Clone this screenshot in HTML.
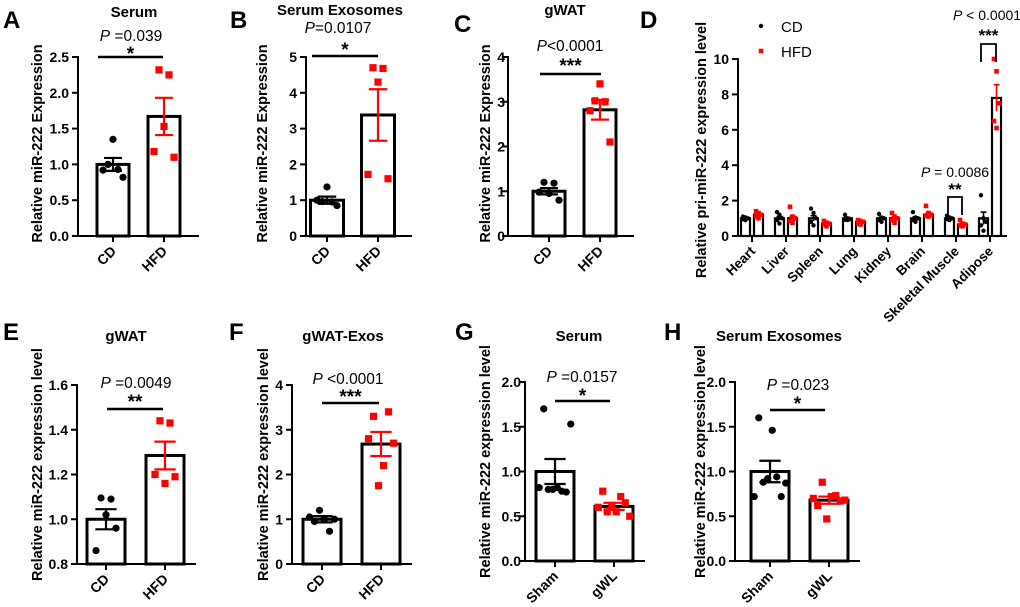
<!DOCTYPE html>
<html><head><meta charset="utf-8"><style>
html,body{margin:0;padding:0;background:#fff;}
svg{display:block;font-family:"Liberation Sans",Arial,sans-serif;}
</style></head><body>
<svg id="fig" width="1020" height="607" viewBox="0 0 1020 607" xmlns="http://www.w3.org/2000/svg"></svg>
<script>
// ---- data ----
const aCats=['CD','HFD'];const aMeans=[1.0,1.67];const aSem=[0.09,0.26];
const aPts=[[0.92,1.0,1.35,0.93,0.82],[1.18,2.32,1.53,2.25,1.1]];
const bCats=['CD','HFD'];const bMeans=[1.0,3.38];const bSem=[0.1,0.72];
const bPts=[[1.0,0.96,1.37,0.95,0.85],[1.72,4.7,4.3,4.68,1.6]];
const cCats=['CD','HFD'];const cMeans=[1.0,2.82];const cSem=[0.07,0.22];
const cPts=[[0.98,1.2,0.95,1.18,0.8],[2.8,3.02,3.4,3.0,2.1]];
const eCats=['CD','HFD'];const eMeans=[1.0,1.285];const eSem=[0.045,0.062];
const ePts=[[0.86,1.095,1.02,1.09,0.96],[1.2,1.44,1.16,1.43,1.19]];
const fCats=['CD','HFD'];const fMeans=[1.0,2.68];const fSem=[0.07,0.27];
const fPts=[[1.05,0.95,1.2,1.0,0.73,1.0],[2.8,3.3,1.75,2.2,3.4,2.7]];
const gCats=['Sham','gWL'];const gMeans=[1.0,0.61];const gSem=[0.14,0.04];
const gPts=[[0.82,1.7,0.8,0.8,0.82,0.78,0.77,1.53],[0.6,0.78,0.55,0.62,0.55,0.72,0.65,0.5]];
const hCats=['Sham','gWL'];const hMeans=[1.0,0.68];const hSem=[0.12,0.04];
const hPts=[[0.72,1.6,0.88,0.92,1.46,0.94,0.72,0.87],[0.7,0.62,0.88,0.47,0.72,0.73,0.67,0.68]];
const dCats=['Heart','Liver','Spleen','Lung','Kidney','Brain','Skeletal Muscle','Adipose'];
const dCdMeans=[1,1,1,1,1,1,1,1];
const dCdSem=[0.05,0.1,0.15,0.05,0.06,0.08,0.05,0.35];
const dHfdMeans=[1.2,1.0,0.7,0.8,1.0,1.2,0.65,7.8];
const dHfdSem=[0.08,0.12,0.05,0.06,0.08,0.1,0.05,0.75];
const dCdPts=[[1.1,1.05,1.0,0.95,0.9],[1.35,1.2,1.0,0.9,0.7],[1.55,1.3,1.0,0.8,0.6],[1.2,1.0,0.95,0.92,0.9],[1.25,1.05,1.0,0.9,0.8],[1.35,1.05,1.0,0.9,0.8],[1.15,1.05,1.0,0.95,0.9],[2.3,1.0,0.8,0.6,0.3]];
const dHfdPts=[[1.4,1.3,1.2,1.1,1.0],[1.65,1.1,1.0,0.85,0.75],[0.85,0.75,0.7,0.65,0.55],[0.9,0.85,0.8,0.7,0.65],[1.3,1.1,1.0,0.9,0.75],[1.7,1.3,1.2,1.15,1.1],[0.9,0.7,0.65,0.6,0.55],[10.0,9.3,7.5,6.5,6.1]];

const NS='http://www.w3.org/2000/svg';
const svg=document.getElementById('fig');
function el(tag,attrs,parent,text){const e=document.createElementNS(NS,tag);for(const k in attrs)e.setAttribute(k,attrs[k]);if(text!==undefined)e.textContent=text;(parent||svg).appendChild(e);return e;}

function panel(id,g,cats,means,sem,pts){
  const G=el('g',{});
  
  
  const y=v=>g.yBot-(v-g.dmin)/(g.dmax-g.dmin)*(g.yBot-g.yTop);
  const tg=g.tg||9;
  const ax=el('g',{},G);
  
  
  el('line',{x1:g.ax,y1:g.yTop-1,x2:g.ax,y2:g.yBot+1,stroke:'#000','stroke-width':2},ax);
  g.ticks.forEach(t=>{
    el('line',{x1:g.ax-6,y1:y(t),x2:g.ax,y2:y(t),stroke:'#000','stroke-width':2},ax);
    const tl=el('text',{x:g.ax-tg,y:y(t)+5,'text-anchor':'end','font-size':14,'font-weight':'bold'},ax,t.toFixed(g.dec));
    
    
  });
  const xa=el('line',{x1:g.ax,y1:g.yBot,x2:g.xEnd,y2:g.yBot,stroke:'#000','stroke-width':2},G);
  
  
  cats.forEach((c,i)=>{
    const cx=g.centers[i];
    const b=el('rect',{x:cx-g.bw/2,y:y(means[i]),width:g.bw,height:g.yBot-y(means[i]),fill:'#fff',stroke:'#000','stroke-width':3},G);
    
    
    const col=i===0?'#000':'#ff0000';
    const n=pts[i].length;
    pts[i].forEach((v,j)=>{
      const ox=cx+(j-(n-1)/2)*g.jit;
      let m;
      if(i===0)m=el('circle',{cx:ox,cy:y(v),r:3.6,fill:col},G);
      else m=el('rect',{x:ox-3.6,y:y(v)-3.6,width:7.2,height:7.2,fill:col},G);
      
      
    });
    const eb=el('g',{stroke:col,'stroke-width':2.2},G);
    
    
    el('line',{x1:cx,y1:y(means[i]-sem[i]),x2:cx,y2:y(means[i]+sem[i])},eb);
    el('line',{x1:cx-g.bw*0.28,y1:y(means[i]+sem[i]),x2:cx+g.bw*0.28,y2:y(means[i]+sem[i])},eb);
    el('line',{x1:cx-g.bw*0.28,y1:y(means[i]-sem[i]),x2:cx+g.bw*0.28,y2:y(means[i]-sem[i])},eb);
    el('line',{x1:cx,y1:g.yBot,x2:cx,y2:g.yBot+6,stroke:'#000','stroke-width':2},G);
    const lx=cx+4,ly=g.yBot+16;
    const xl=el('text',{x:lx,y:ly,'text-anchor':'end','font-size':14,'font-weight':'bold',transform:`rotate(-45 ${lx} ${ly})`},G,c);
    
    
  });
  const cy=(g.yTop+g.yBot)/2+(g.ylOff||0);
  const yl=el('text',{x:g.ylx,y:cy,'text-anchor':'middle','font-size':14.5,'font-weight':'bold',transform:`rotate(-90 ${g.ylx} ${cy})`},G,g.ylabel);
  
  
  const tt=el('text',{x:g.tx,y:g.ty,'text-anchor':'middle','font-size':15,'font-weight':'bold'},G,g.title);
  
  
  const lt=el('text',{x:g.lx,y:g.ly,'font-size':24,'font-weight':'bold'},G,id);
  
  
  const pt=el('text',{x:g.px,y:g.py,'text-anchor':'middle','font-size':15.5},G);
  
  
  el('tspan',{'font-style':'italic'},pt,'P');el('tspan',{},pt,g.ptxt);
  const st=el('text',{x:(g.s1+g.s2)/2,y:g.sy,'text-anchor':'middle','font-size':19,'font-weight':'bold'},G,g.star);
  
  
  const sl=el('line',{x1:g.s1,y1:g.sly,x2:g.s2,y2:g.sly,stroke:'#000','stroke-width':2.5},G);
  
  
}
const L1='Relative miR-222 Expression',L2='Relative miR-222 expression level';
panel('A',{ax:78,yTop:57,yBot:236,xEnd:199,dmin:0,dmax:2.5,ticks:[0,0.5,1,1.5,2,2.5],dec:1,centers:[113,164],bw:32,jit:5,ylx:42,ylabel:L1,ylOff:-3,title:'Serum',tx:134,ty:17,lx:3,ly:28,px:131,py:41,ptxt:' =0.039',sy:60,star:'*',s1:98,s2:163,sly:57},aCats,aMeans,aSem,aPts);
panel('B',{ax:306,yTop:57,yBot:236,xEnd:412,dmin:0,dmax:5,ticks:[0,1,2,3,4,5],dec:0,centers:[327,378],bw:33,jit:5,ylx:267,ylabel:L1,ylOff:-3,title:'Serum Exosomes',tx:340,ty:15,lx:230,ly:28,px:338,py:33,ptxt:'=0.0107',sy:56,star:'*',s1:312,s2:378,sly:56},bCats,bMeans,bSem,bPts);
panel('C',{ax:508,yTop:57,yBot:236,xEnd:634,dmin:0,dmax:4,ticks:[0,1,2,3,4],dec:0,tg:3,centers:[549,600],bw:32,jit:5,ylx:490,ylabel:L1,ylOff:-3,title:'gWAT',tx:565,ty:15,lx:454,ly:32,px:570,py:51,ptxt:'<0.0001',sy:72,star:'***',s1:540,s2:601,sly:74},cCats,cMeans,cSem,cPts);
panel('E',{ax:77,yTop:385,yBot:564,xEnd:196,dmin:0.8,dmax:1.6,ticks:[0.8,1.0,1.2,1.4,1.6],dec:1,centers:[106,165],bw:38,jit:5,ylx:42,ylabel:L2,ylOff:-10,title:'gWAT',tx:126,ty:341,lx:3,ly:340,px:136,py:388,ptxt:' =0.0049',sy:408,star:'**',s1:107,s2:163,sly:409},eCats,eMeans,eSem,ePts);
panel('F',{ax:292,yTop:385,yBot:564,xEnd:412,dmin:0,dmax:4,ticks:[0,1,2,3,4],dec:0,centers:[322,381],bw:38,jit:5,ylx:268,ylabel:L2,ylOff:-10,title:'gWAT-Exos',tx:343,ty:341,lx:229,ly:340,px:348,py:384,ptxt:' <0.0001',sy:403,star:'***',s1:322,s2:379,sly:403},fCats,fMeans,fSem,fPts);
panel('G',{ax:525,yTop:382,yBot:561,xEnd:645,dmin:0,dmax:2,ticks:[0,0.5,1,1.5,2],dec:1,tg:4,centers:[555,614],bw:38,jit:4.5,ylx:490,ylabel:L2,ylOff:-10,title:'Serum',tx:579,ty:341,lx:455,ly:340,px:582,py:382,ptxt:' =0.0157',sy:402,star:'*',s1:555,s2:610,sly:401},gCats,gMeans,gSem,gPts);
panel('H',{ax:735,yTop:382,yBot:561,xEnd:860,dmin:0,dmax:2,ticks:[0,0.5,1,1.5,2],dec:1,centers:[770,829],bw:38,jit:4.5,ylx:705,ylabel:L2,ylOff:-10,title:'Serum Exosomes',tx:779,ty:341,lx:664,ly:340,px:798,py:390,ptxt:' =0.023',sy:410,star:'*',s1:770,s2:825,sly:410},hCats,hMeans,hSem,hPts);

// ---- panel D ----
(function(){
  const G=el('g',{});
  
  
  const ax=738,yTop=59,yBot=236,xEnd=1007,dmax=10;
  const y=v=>yBot-v/dmax*(yBot-yTop);
  const gx=i=>752+34*i;
  el('line',{x1:ax,y1:yTop-1,x2:ax,y2:yBot+1,stroke:'#000','stroke-width':2},G);
  el('line',{x1:ax,y1:yBot,x2:xEnd,y2:yBot,stroke:'#000','stroke-width':2},G);
  [0,2,4,6,8,10].forEach(t=>{
    el('line',{x1:ax-6,y1:y(t),x2:ax,y2:y(t),stroke:'#000','stroke-width':2},G);
    const tl=el('text',{x:ax-9,y:y(t)+5,'text-anchor':'end','font-size':14,'font-weight':'bold'},G,String(t));
    
    
  });
  dCats.forEach((c,i)=>{
    const gc=gx(i);
    [[dCdMeans,dCdSem,dCdPts,'#000',-6.5],[dHfdMeans,dHfdSem,dHfdPts,'#ff0000',6.5]].forEach(([M,S,P,col,off],k)=>{
      const cx=gc+off;
      const b=el('rect',{x:cx-4.5,y:y(M[i]),width:9,height:yBot-y(M[i]),fill:'#fff',stroke:'#000','stroke-width':2.2},G);
      
      
      P[i].forEach((v,j)=>{
        const ox=cx+((j%3)-1)*2.5;
        let m;
        if(k===0)m=el('circle',{cx:ox,cy:y(v),r:2.2,fill:col},G);
        else m=el('rect',{x:ox-2.3,y:y(v)-2.3,width:4.6,height:4.6,fill:col},G);
        
        
      });
      el('line',{x1:cx,y1:y(M[i]-S[i]),x2:cx,y2:y(M[i]+S[i]),stroke:col,'stroke-width':1.6},G);
      el('line',{x1:cx-3,y1:y(M[i]+S[i]),x2:cx+3,y2:y(M[i]+S[i]),stroke:col,'stroke-width':1.6},G);
    });
    el('line',{x1:gc,y1:yBot,x2:gc,y2:yBot+6,stroke:'#000','stroke-width':2},G);
    const lx=gc+4,ly=yBot+16;
    const xl=el('text',{x:lx,y:ly,'text-anchor':'end','font-size':13.5,'font-weight':'bold',transform:`rotate(-45 ${lx} ${ly})`},G,c);
    
    
  });
  const yl=el('text',{x:706,y:150,'text-anchor':'middle','font-size':14.5,'font-weight':'bold',transform:'rotate(-90 706 150)'},G,'Relative pri-miR-222 expression level');
  
  
  const lt=el('text',{x:640,y:28,'font-size':24,'font-weight':'bold'},G,'D');
  
  
  const lg=el('g',{},G);
  
  
  el('circle',{cx:761,cy:26,r:2.2,fill:'#000'},lg);
  el('text',{x:781,y:32,'font-size':15},lg,'CD');
  el('rect',{x:758.7,y:48.7,width:4.6,height:4.6,fill:'#ff0000'},lg);
  el('text',{x:781,y:57,'font-size':15},lg,'HFD');
  function ann(px,py,txt,sy,stars,x1,x2,ty,by){
    const a=el('g',{},G);
    
    
    const t=el('text',{x:px,y:py,'text-anchor':'middle','font-size':14},a);
    el('tspan',{'font-style':'italic'},t,'P');el('tspan',{},t,txt);
    el('text',{x:(x1+x2)/2,y:sy,'text-anchor':'middle','font-size':17,'font-weight':'bold'},a,stars);
    el('polyline',{points:`${x1},${by} ${x1},${ty} ${x2},${ty} ${x2},${by}`,fill:'none',stroke:'#000','stroke-width':1.8},a);
  }
  ann(987,20,' < 0.0001',41,'***',981,996,44,62);
  ann(955,177,' = 0.0086',195,'**',948,962,197,215);
})();
</script>
</body></html>
